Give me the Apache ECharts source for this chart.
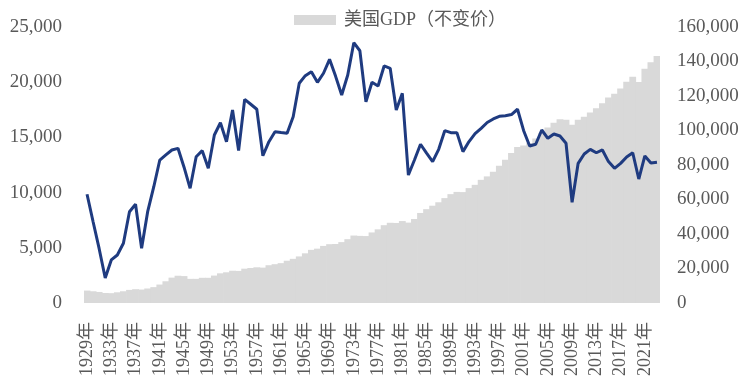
<!DOCTYPE html>
<html>
<head>
<meta charset="utf-8">
<script src="https://cdn.jsdelivr.net/npm/echarts@6/dist/echarts.min.js"></script>
<style>
html,body{margin:0;padding:0;background:#fff;}
#chart{width:750px;height:381px;}
</style>
</head>
<body>
<div id="chart"></div>
<script>
var years = [];
for (var y = 1929; y <= 2023; y++) { years.push(y + '年'); }

var lineValues = [
  9850, 7360, 4920, 2270, 3900, 4350, 5410, 8270, 8940, 4960,
  8270, 10510, 12950, 13410, 13860, 14010, 12300, 10390, 13250, 13800,
  12200, 15220, 16330, 14610, 17480, 13800, 18450, 18000, 17550, 13340,
  14610, 15520, 15440, 15370, 16880, 19900, 20590, 20950, 19990, 20810,
  22070, 20530, 18840, 20650, 23580, 22850, 18230, 19990, 19660, 21470,
  21260, 17480, 19000, 11590, 12950, 14380, 13570, 12800, 13920, 15610,
  15430, 15430, 13710, 14620, 15340, 15820, 16350, 16670, 16910, 16960,
  17070, 17550, 15630, 14220, 14380, 15670, 14920, 15310, 15130, 14470,
  9120, 12650, 13500, 13920, 13610, 13860, 12810, 12200, 12650, 13230,
  13610, 11230, 13320, 12680, 12750
];

var gdpValues = [
  7200, 6800, 6400, 5800, 5700, 6200, 6800, 7600, 8000, 7800,
  8400, 9200, 10700, 12600, 14700, 15800, 15600, 14000, 14000, 14600,
  14600, 15900, 17200, 17800, 18700, 18600, 19900, 20300, 20700, 20500,
  21900, 22500, 23100, 24500, 25600, 27000, 28800, 30800, 31500, 33100,
  34100, 34200, 35300, 37000, 39100, 38900, 38800, 40900, 42700, 45100,
  46500, 46400, 47500, 46600, 48700, 52200, 54400, 56400, 58400, 60800,
  63100, 64400, 64300, 66600, 68500, 71400, 73400, 76100, 79500, 83100,
  86900, 90400, 91300, 92800, 95300, 98700, 101800, 104500, 106500, 106200,
  103400, 106300, 107900, 110400, 112900, 115800, 119200, 121300, 124400, 128200,
  131100, 128100, 135800, 139600, 143200
];

var gdpName = '美国GDP（不变价）';
var lineName = '指标';

var serif = "'Liberation Serif', 'Times New Roman', 'Noto Sans CJK SC', serif";
var fmt = function (v) { return Number(v).toLocaleString('en-US'); };

var chart = echarts.init(document.getElementById('chart'), null, {renderer: 'canvas'});
chart.setOption({
  animation: false,
  backgroundColor: '#ffffff',
  legend: {
    data: [gdpName],
    left: 289,
    top: 6,
    itemWidth: 42,
    itemHeight: 10,
    icon: 'rect',
    textStyle: {color: '#595959', fontSize: 18, fontFamily: serif, padding: [0, 0, 0, 3]}
  },
  grid: {left: 84, right: 90, top: 27, bottom: 78, containLabel: false},
  xAxis: {
    type: 'category',
    data: years,
    boundaryGap: true,
    axisLine: {show: false},
    axisTick: {show: false},
    axisLabel: {
      interval: 3,
      rotate: 90,
      margin: 19,
      color: '#595959',
      fontSize: 18,
      fontFamily: serif
    }
  },
  yAxis: [
    {
      type: 'value',
      min: 0, max: 25000, interval: 5000,
      splitLine: {show: false},
      axisLine: {show: false},
      axisTick: {show: false},
      axisLabel: {color: '#595959', fontSize: 19, fontFamily: serif, margin: 22, formatter: fmt}
    },
    {
      type: 'value',
      min: 0, max: 160000, interval: 20000,
      splitLine: {show: false},
      axisLine: {show: false},
      axisTick: {show: false},
      axisLabel: {color: '#595959', fontSize: 19, fontFamily: serif, margin: 17, formatter: fmt}
    }
  ],
  series: [
    {
      name: gdpName,
      type: 'bar',
      yAxisIndex: 1,
      data: gdpValues,
      barWidth: '112%',
      itemStyle: {color: '#D9D9D9'},
      z: 1
    },
    {
      name: lineName,
      type: 'line',
      yAxisIndex: 0,
      data: lineValues,
      symbol: 'none',
      lineStyle: {color: '#1F3B80', width: 3},
      itemStyle: {color: '#1F3B80'},
      z: 3
    }
  ]
});
</script>
</body>
</html>
